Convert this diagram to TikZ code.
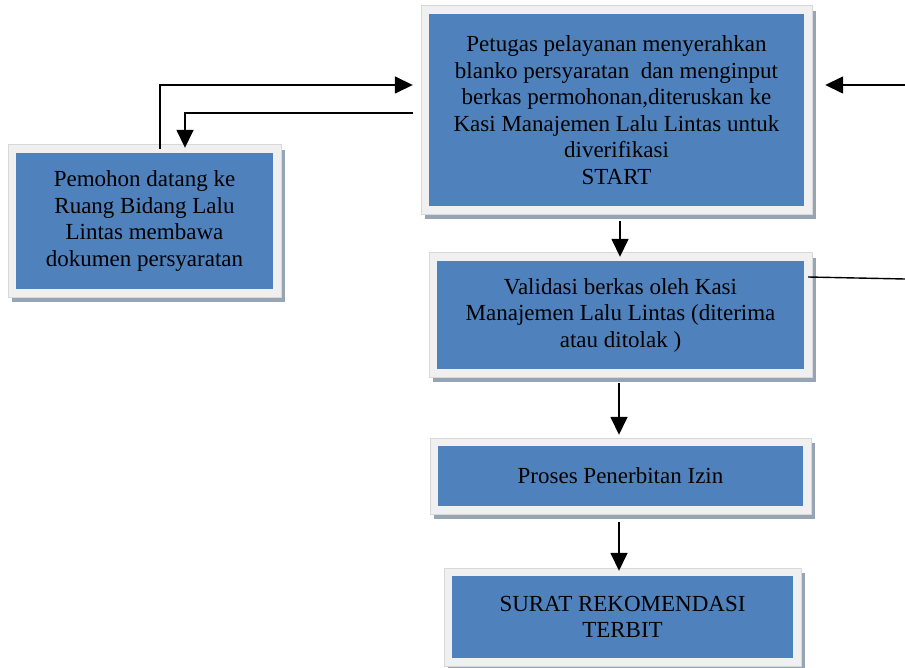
\documentclass[tikz,border=0pt]{standalone}
\usepackage{fontspec}
\setmainfont{Liberation Serif}
\usetikzlibrary{arrows.meta,backgrounds}
\definecolor{boxblue}{HTML}{4F81BD}
\definecolor{framegray}{HTML}{F0F0F0}
\definecolor{frameline}{HTML}{D8D8D8}
\definecolor{shadowgray}{HTML}{97A4B4}
\tikzset{
  flowbox/.style={fill=boxblue, draw=none, inner sep=0pt, align=center,
    font=\fontsize{23}{26.5}\selectfont, text=black},
  arr/.style={line width=1.6pt, -{Triangle[length=18pt,width=17pt]}},
  plain/.style={line width=1.4pt}
}
\begin{document}
\begin{tikzpicture}[x=1pt,y=-1pt]
\useasboundingbox (0,0) rectangle (905,668);
\clip (0,0) rectangle (905,668);
\node[flowbox, minimum width=375pt, minimum height=192pt] (t) at (616.5,110)
  {Petugas pelayanan menyerahkan\\blanko persyaratan\ \ dan menginput\\berkas permohonan,diteruskan ke\\Kasi Manajemen Lalu Lintas untuk\\diverifikasi\\START};
\node[flowbox, minimum width=257pt, minimum height=136pt] (l) at (144.5,221)
  {Pemohon datang ke\\Ruang Bidang Lalu\\Lintas membawa\\dokumen persyaratan};
\node[flowbox, minimum width=367pt, minimum height=108pt] (v) at (620.5,315)
  {Validasi berkas oleh Kasi\\Manajemen Lalu Lintas (diterima\\atau ditolak )};
\node[flowbox, minimum width=365pt, minimum height=60pt] (p) at (620.5,476)
  {Proses Penerbitan Izin};
\node[flowbox, minimum width=341pt, minimum height=82pt] (s) at (622.5,617)
  {SURAT REKOMENDASI\\TERBIT};
\begin{scope}[on background layer]
\foreach \n in {t,l,v,p,s}{
  \fill[shadowgray] ([shift={(-4,-3)}]\n.north west) rectangle ([shift={(12,13)}]\n.south east);
  \filldraw[fill=framegray, draw=frameline, line width=0.6pt]
    ([shift={(-8,-8)}]\n.north west) rectangle ([shift={(8,8)}]\n.south east);
}
\end{scope}
\coordinate (a1) at (160,85);
\coordinate (a2) at (185,113);
\coordinate (rin) at (905,85);
\coordinate (rout) at (905,279);
% left box up and into top box
\draw[arr, shorten >=16pt] ([yshift=4pt]l.north -| a1) -- (a1) -- (t.west |- a1);
% top box back to left box
\draw[arr, shorten <=16pt, shorten >=5pt] (t.west |- a2) -- (a2) -- (l.north -| a2);
% incoming from the right
\draw[arr, shorten >=21pt] (rin) -- (t.east |- rin);
% outgoing line to the right
\draw[plain] ([xshift=4pt]v.east |- 0,277) -- (rout);
% vertical flow
\draw[arr, shorten <=15pt, shorten >=4pt] (t.south -| 620,0) -- (v.north -| 620,0);
\draw[arr, shorten <=14pt, shorten >=11pt] (v.south -| 619,0) -- (p.north -| 619,0);
\draw[arr, shorten <=16pt, shorten >=5pt] (p.south -| 619,0) -- (s.north -| 619,0);
\end{tikzpicture}
\end{document}
